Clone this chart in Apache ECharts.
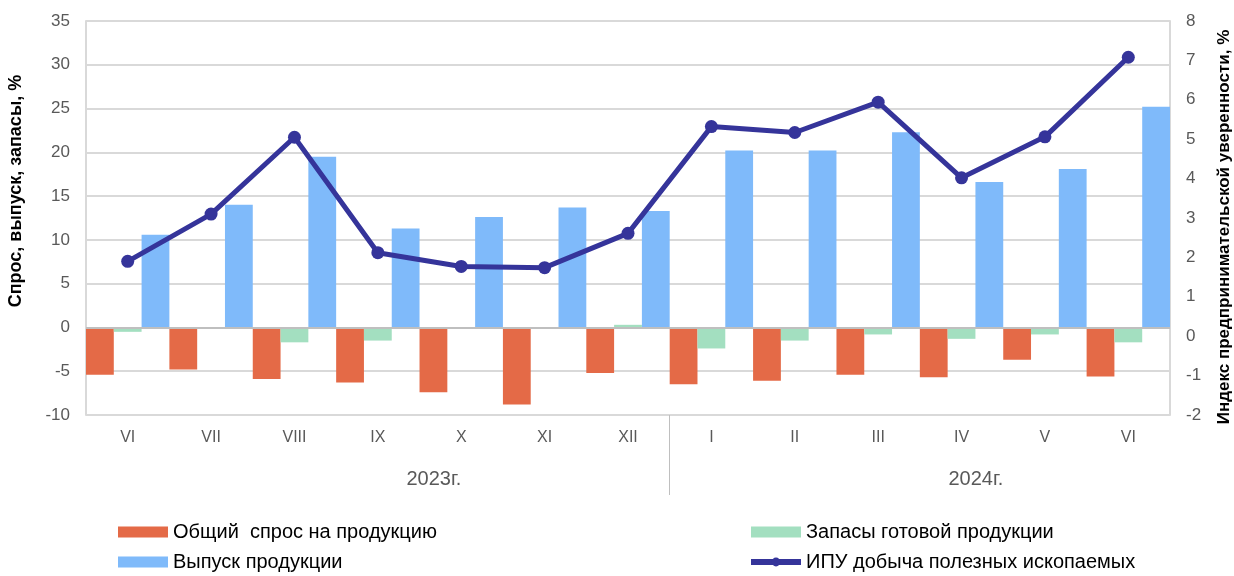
<!DOCTYPE html>
<html>
<head>
<meta charset="utf-8">
<script src="https://cdn.jsdelivr.net/npm/echarts@6/dist/echarts.min.js"></script>
<style>
  html, body { margin: 0; padding: 0; background: #fff; }
  #chart { width: 1234px; height: 576px; }
</style>
</head>
<body>
<div id="chart"></div>
<script>
// месяцы и годы
const months = ['VI', 'VII', 'VIII', 'IX', 'X', 'XI', 'XII', 'I', 'II', 'III', 'IV', 'V', 'VI']
const years = ['2023г.', '2024г.']

// значения
const demand = [-5.4, -4.8, -5.9, -6.3, -7.4, -8.8, -5.2, -6.5, -6.1, -5.4, -5.7, -3.7, -5.6]
const stocks = [-0.5, 0, -1.7, -1.5, 0, 0, 0.3, -2.4, -1.5, -0.8, -1.3, -0.8, -1.7]
const output = [10.6, 14.0, 19.5, 11.3, 12.6, 13.7, 13.3, 20.2, 20.2, 22.3, 16.6, 18.1, 25.2]
const ipu = [1.9, 3.1, 5.05, 2.12, 1.77, 1.74, 2.61, 5.32, 5.17, 5.94, 4.02, 5.06, 7.08]

const leftTicks = { min: -10, max: 35, interval: 5 }
const rightTicks = { min: -2, max: 8, interval: 1 }

// вторая строка подписей: 27 точек по полкатегории, годы по центру своих месяцев
let yearAxis = []
for (let i = 0; i <= months.length * 2; i++) yearAxis.push('')
yearAxis[7] = years[0]
yearAxis[20] = years[1]

const font = 'Liberation Sans, Arial, sans-serif'
const gray = '#595959'

let legendBase = {
  orient: 'vertical',
  top: 522,
  padding: 0,
  itemWidth: 50,
  itemHeight: 11,
  itemGap: 10,
  textStyle: { fontSize: 20, color: '#000', fontFamily: font }
}

let myChart = echarts.init(document.getElementById('chart'))
let option = {
  animation: false,
  textStyle: { fontFamily: font },
  grid: { left: 86, right: 64, top: 21, bottom: 161, containLabel: false, outerBoundsMode: 'none' },
  legend: [
    Object.assign({}, legendBase, {
      left: 118,
      data: [
        { name: 'Общий  спрос на продукцию', icon: 'rect' },
        { name: 'Выпуск продукции', icon: 'rect' }
      ]
    }),
    Object.assign({}, legendBase, {
      left: 748,
      data: [
        { name: 'Запасы готовой продукции', icon: 'rect' },
        { name: 'ИПУ добыча полезных ископаемых', lineStyle: { width: 6 } }
      ]
    })
  ],
  xAxis: [
    {
      type: 'category',
      data: months,
      axisLine: { show: false, onZero: false },
      axisTick: { show: false },
      axisLabel: { interval: 0, margin: 15, fontSize: 16, color: gray }
    },
    {
      type: 'category',
      data: yearAxis,
      boundaryGap: false,
      position: 'bottom',
      axisLine: { show: false, onZero: false },
      axisTick: {
        show: true,
        length: 80,
        interval: (idx) => idx === months.length + 1,
        lineStyle: { color: '#bfbfbf', width: 1 }
      },
      axisLabel: { interval: 0, margin: 54, fontSize: 20, color: gray, padding: [0, 0, 0, 112] }
    }
  ],
  yAxis: [
    {
      type: 'value',
      min: leftTicks.min,
      max: leftTicks.max,
      interval: leftTicks.interval,
      name: 'Спрос, выпуск, запасы, %',
      nameLocation: 'middle',
      nameRotate: 90,
      nameGap: 61,
      nameTextStyle: { fontSize: 18, fontWeight: 'bold', color: '#000', padding: [0, 0, 0, 54] },
      axisLine: { show: true, lineStyle: { color: '#d9d9d9', width: 2 } },
      axisTick: { show: false },
      axisLabel: { margin: 16, fontSize: 17, color: gray },
      splitLine: { show: true, lineStyle: { color: '#d9d9d9', width: 2 } }
    },
    {
      type: 'value',
      min: rightTicks.min,
      max: rightTicks.max,
      interval: rightTicks.interval,
      name: 'Индекс предпринимательской уверенности, %',
      nameLocation: 'middle',
      nameRotate: 90,
      nameGap: 46,
      nameTextStyle: { fontSize: 17, fontWeight: 'bold', color: '#000', padding: [0, 18, 0, 0] },
      axisLine: { show: true, lineStyle: { color: '#d9d9d9', width: 2 } },
      axisTick: { show: false },
      axisLabel: { margin: 16, fontSize: 17, color: gray },
      splitLine: { show: false }
    }
  ],
  series: [
    {
      name: 'Общий  спрос на продукцию',
      type: 'bar',
      data: demand,
      barGap: '0%',
      barCategoryGap: '0%',
      itemStyle: { color: '#e46a47' }
    },
    {
      name: 'Запасы готовой продукции',
      type: 'bar',
      data: stocks,
      barGap: '0%',
      barCategoryGap: '0%',
      itemStyle: { color: '#a3dfc0' }
    },
    {
      name: 'Выпуск продукции',
      type: 'bar',
      data: output,
      barGap: '0%',
      barCategoryGap: '0%',
      itemStyle: { color: '#7fbafa' },
      markLine: {
        silent: true,
        symbol: 'none',
        label: { show: false },
        lineStyle: { color: '#bfbfbf', type: 'solid', width: 2 },
        data: [{ yAxis: 0 }]
      }
    },
    {
      name: 'ИПУ добыча полезных ископаемых',
      type: 'line',
      yAxisIndex: 1,
      data: ipu,
      symbol: 'circle',
      symbolSize: 13,
      lineStyle: { color: '#35349a', width: 5 },
      itemStyle: { color: '#35349a' }
    }
  ]
}
myChart.setOption(option)
</script>
</body>
</html>
